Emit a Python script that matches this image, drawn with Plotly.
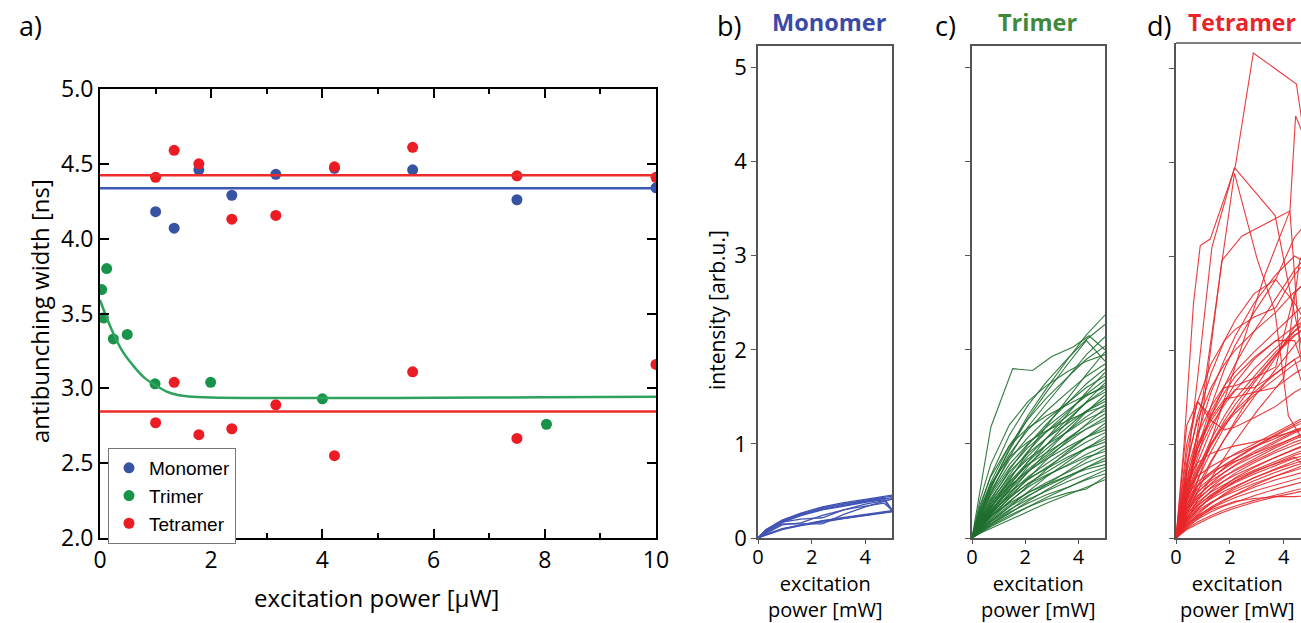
import plotly.graph_objects as go

W, H = 1301, 623

# ---------------- panel a: antibunching width vs excitation power ----------------
mono_x = [1.0, 1.334, 1.778, 2.371, 3.162, 4.217, 5.623, 7.499, 10.0]
mono_y = [4.18, 4.07, 4.46, 4.29, 4.43, 4.47, 4.46, 4.26, 4.34]
tri_x = [0.03, 0.12, 0.06, 0.24, 0.49, 0.99, 1.99, 4.0, 8.03]
tri_y = [3.66, 3.80, 3.47, 3.33, 3.36, 3.03, 3.04, 2.93, 2.76]
tet_x = [1.0, 1.334, 1.778, 2.371, 3.162, 4.217, 5.623, 7.499, 10.0,
         1.0, 1.334, 1.778, 2.371, 3.162, 4.217, 5.623, 7.499, 10.0]
tet_y = [4.41, 4.59, 4.50, 4.13, 4.155, 4.48, 4.61, 4.42, 4.41,
         2.77, 3.04, 2.69, 2.73, 2.89, 2.55, 3.11, 2.665, 3.16]

fit_x = [0, 10]
mono_fit_y = [4.337, 4.337]
tet_fit_hi_y = [4.424, 4.424]
tet_fit_lo_y = [2.845, 2.845]
tri_fit_x = [0, 0.2, 0.4, 0.6, 0.8, 1.0, 1.2, 1.4, 1.6, 2.0, 3.0, 4.0, 6.0, 8.0, 10.0]
tri_fit_y = [3.59, 3.40, 3.25, 3.15, 3.07, 3.02, 2.978, 2.955, 2.945, 2.938, 2.935,
             2.935, 2.937, 2.940, 2.943]

# ---------------- panel b: monomer intensity curves ----------------
mon_grid = [0, 0.3, 0.9, 1.6, 2.4, 3.2, 4.0, 4.7, 5.0]
mon_lines = [
    [0, 0.090, 0.190, 0.265, 0.330, 0.375, 0.410, 0.440, 0.455],
    [0, 0.085, 0.185, 0.258, 0.322, 0.366, 0.402, 0.432, 0.445],
    [0, 0.080, 0.178, 0.250, 0.315, 0.360, 0.395, 0.425, 0.300],
    [0, 0.075, 0.172, 0.243, 0.305, 0.350, 0.388, 0.415, 0.430],
    [0, 0.070, 0.165, 0.237, 0.298, 0.342, 0.380, 0.405, 0.285],
    [0, 0.040, 0.100, 0.143, 0.185, 0.220, 0.250, 0.275, 0.292],
    [0, 0.036, 0.094, 0.137, 0.178, 0.212, 0.243, 0.268, 0.284],
    [0, 0.032, 0.090, 0.132, 0.172, 0.206, 0.237, 0.262, 0.278],
    [0, 0.060, 0.150, 0.148, 0.150, 0.250, 0.330, 0.390, 0.420],
    [0, 0.050, 0.140, 0.160, 0.240, 0.300, 0.340, 0.370, 0.300],
    [0, 0.088, 0.170, 0.200, 0.215, 0.300, 0.360, 0.395, 0.410],
]

# ---------------- panel c: trimer intensity curves ----------------
tri_grid = [0, 0.3, 0.7, 1.4, 2.1, 2.8, 3.6, 4.3, 5.0]
tri_lines = [
    [0, 0.24, 0.52, 0.95, 1.30, 1.59, 1.90, 2.16, 2.37],
    [0, 0.32, 0.66, 1.09, 1.41, 1.66, 1.91, 2.11, 2.27],
    [0, 0.21, 0.47, 0.86, 1.18, 1.43, 1.71, 1.95, 2.14],
    [0, 0.29, 0.59, 0.98, 1.26, 1.49, 1.71, 1.90, 2.04],
    [0, 0.26, 0.55, 0.93, 1.27, 1.55, 1.85, 2.10, 1.88],
    [0, 0.14, 0.32, 0.61, 0.91, 1.19, 1.49, 1.74, 1.98],
    [0, 0.26, 0.54, 0.89, 1.15, 1.35, 1.55, 1.72, 1.85],
    [0, 0.18, 0.40, 0.72, 0.99, 1.21, 1.44, 1.64, 1.80],
    [0, 0.12, 0.28, 0.55, 0.81, 1.06, 1.32, 1.55, 1.76],
    [0, 0.24, 0.50, 0.83, 1.07, 1.26, 1.44, 1.60, 1.72],
    [0, 0.17, 0.37, 0.67, 0.92, 1.13, 1.34, 1.53, 1.68],
    [0, 0.12, 0.26, 0.51, 0.76, 0.99, 1.24, 1.45, 1.65],
    [0, 0.23, 0.47, 0.78, 1.00, 1.18, 1.36, 1.51, 1.62],
    [0, 0.16, 0.35, 0.63, 0.87, 1.06, 1.26, 1.44, 1.58],
    [0, 0.22, 0.45, 0.74, 0.96, 1.13, 1.30, 1.44, 1.55],
    [0, 0.11, 0.24, 0.47, 0.70, 0.91, 1.14, 1.34, 1.52],
    [0, 0.15, 0.33, 0.59, 0.81, 0.99, 1.18, 1.35, 1.48],
    [0, 0.20, 0.42, 0.70, 0.90, 1.06, 1.22, 1.35, 1.45],
    [0, 0.14, 0.31, 0.57, 0.78, 0.95, 1.14, 1.29, 1.42],
    [0, 0.10, 0.22, 0.43, 0.63, 0.83, 1.04, 1.21, 1.38],
    [0, 0.19, 0.39, 0.65, 0.84, 0.99, 1.13, 1.26, 1.35],
    [0, 0.13, 0.29, 0.53, 0.73, 0.88, 1.06, 1.20, 1.32],
    [0, 0.13, 0.28, 0.51, 0.70, 0.86, 1.02, 1.16, 1.28],
    [0, 0.18, 0.36, 0.60, 0.78, 0.91, 1.05, 1.16, 1.25],
    [0, 0.09, 0.20, 0.38, 0.56, 0.73, 0.92, 1.07, 1.22],
    [0, 0.12, 0.26, 0.47, 0.65, 0.79, 0.94, 1.07, 1.18],
    [0, 0.16, 0.33, 0.55, 0.71, 0.84, 0.97, 1.07, 1.15],
    [0, 0.11, 0.25, 0.45, 0.62, 0.75, 0.90, 1.02, 1.12],
    [0, 0.08, 0.17, 0.33, 0.50, 0.65, 0.81, 0.95, 1.08],
    [0, 0.11, 0.23, 0.42, 0.58, 0.70, 0.84, 0.96, 1.05],
    [0, 0.14, 0.30, 0.49, 0.63, 0.74, 0.86, 0.95, 1.02],
    [0, 0.10, 0.22, 0.39, 0.54, 0.66, 0.78, 0.89, 0.98],
    [0, 0.07, 0.15, 0.29, 0.44, 0.57, 0.71, 0.84, 0.95],
    [0, 0.13, 0.27, 0.44, 0.57, 0.67, 0.77, 0.86, 0.92],
    [0, 0.09, 0.19, 0.35, 0.48, 0.59, 0.70, 0.80, 0.88],
    [0, 0.06, 0.14, 0.26, 0.39, 0.51, 0.64, 0.75, 0.85],
    [0, 0.08, 0.18, 0.33, 0.45, 0.55, 0.66, 0.75, 0.82],
    [0, 0.11, 0.23, 0.37, 0.48, 0.57, 0.66, 0.73, 0.78],
    [0, 0.08, 0.17, 0.30, 0.41, 0.50, 0.60, 0.68, 0.75],
    [0, 0.05, 0.12, 0.22, 0.33, 0.43, 0.54, 0.63, 0.72],
    [0, 0.07, 0.15, 0.27, 0.37, 0.46, 0.54, 0.62, 0.68],
    [0, 0.06, 0.13, 0.24, 0.33, 0.41, 0.48, 0.52, 0.65],
    [0, 0.05, 0.10, 0.19, 0.28, 0.37, 0.46, 0.54, 0.62],
    [0, 0.35, 0.65, 0.98, 1.17, 1.30, 1.42, 1.52, 1.60],
    [0, 0.40, 0.78, 1.20, 1.45, 1.62, 1.77, 1.88, 1.95],
    [0, 0.30, 0.57, 0.86, 1.02, 1.14, 1.25, 1.34, 1.40],
]
tri_odd_x = [0, 0.3, 0.71, 1.53, 2.28, 3.0, 3.8, 4.4, 5.0]
tri_odd_y = [0, 0.50, 1.18, 1.80, 1.78, 1.93, 2.03, 2.15, 2.00]

# ---------------- panel d: tetramer intensity curves ----------------
tet_grid = [0, 0.4, 0.8, 1.3, 1.8, 2.2, 2.9, 3.7, 4.4, 5.0]
tet_lines = [
    [0, 0.10, 0.17, 0.24, 0.30, 0.34, 0.40, 0.46, 0.51, 0.55],
    [0, 0.12, 0.20, 0.28, 0.34, 0.38, 0.45, 0.52, 0.58, 0.62],
    [0, 0.15, 0.24, 0.32, 0.38, 0.43, 0.50, 0.57, 0.63, 0.67],
    [0, 0.13, 0.23, 0.33, 0.41, 0.46, 0.54, 0.62, 0.68, 0.72],
    [0, 0.18, 0.29, 0.38, 0.45, 0.50, 0.58, 0.66, 0.72, 0.77],
    [0, 0.16, 0.27, 0.37, 0.46, 0.52, 0.61, 0.70, 0.77, 0.82],
    [0, 0.20, 0.32, 0.42, 0.50, 0.55, 0.64, 0.73, 0.80, 0.85],
    [0, 0.14, 0.25, 0.37, 0.47, 0.54, 0.64, 0.74, 0.82, 0.88],
    [0, 0.22, 0.35, 0.45, 0.53, 0.59, 0.68, 0.77, 0.85, 0.90],
    [0, 0.19, 0.31, 0.43, 0.53, 0.60, 0.70, 0.80, 0.88, 0.93],
    [0, 0.25, 0.38, 0.49, 0.57, 0.63, 0.72, 0.82, 0.90, 0.96],
    [0, 0.17, 0.30, 0.44, 0.56, 0.64, 0.75, 0.86, 0.94, 1.00],
    [0, 0.28, 0.42, 0.53, 0.61, 0.67, 0.76, 0.86, 0.95, 1.02],
    [0, 0.21, 0.36, 0.50, 0.61, 0.69, 0.80, 0.91, 0.99, 1.05],
    [0, 0.30, 0.45, 0.57, 0.66, 0.72, 0.82, 0.93, 1.02, 1.08],
    [0, 0.24, 0.40, 0.54, 0.65, 0.73, 0.84, 0.96, 1.05, 1.12],
    [0, 0.33, 0.49, 0.61, 0.70, 0.77, 0.87, 0.98, 1.08, 1.15],
    [0, 0.27, 0.44, 0.58, 0.70, 0.78, 0.90, 1.02, 1.12, 1.18],
    [0, 0.36, 0.52, 0.64, 0.74, 0.81, 0.92, 1.04, 1.14, 1.22],
    [0, 0.30, 0.48, 0.63, 0.75, 0.84, 0.96, 1.09, 1.19, 1.26],
    [0, 0.40, 0.56, 0.68, 0.78, 0.85, 0.97, 1.10, 1.21, 1.30],
    [0, 0.22, 0.34, 0.46, 0.55, 0.61, 0.71, 0.79, 0.86, 0.70],
    [0, 0.14, 0.22, 0.30, 0.35, 0.39, 0.42, 0.44, 0.44, 0.45],
    [0, 0.45, 0.60, 0.70, 0.77, 0.82, 0.90, 0.99, 1.07, 1.12],
    [0, 0.50, 0.66, 0.76, 0.84, 0.89, 0.97, 1.06, 1.15, 1.20],
    [0, 0.11, 0.21, 0.31, 0.40, 0.46, 0.56, 0.66, 0.74, 0.80],
    [0, 0.35, 0.55, 0.70, 0.82, 0.90, 1.00, 1.12, 1.22, 1.32],
    [0, 0.60, 0.80, 0.90, 0.95, 0.98, 1.02, 1.08, 1.14, 1.18],
    [0, 0.09, 0.15, 0.22, 0.28, 0.32, 0.38, 0.44, 0.48, 0.52],
    [0, 0.45, 0.75, 1.00, 1.20, 1.33, 1.52, 1.70, 1.85, 1.95],
    [0, 0.55, 0.90, 1.20, 1.42, 1.57, 1.80, 2.02, 2.20, 2.32],
    [0, 0.40, 0.70, 1.00, 1.25, 1.42, 1.68, 1.95, 2.15, 2.30],
    [0, 0.70, 1.10, 1.40, 1.62, 1.77, 1.98, 2.20, 2.40, 2.55],
    [0, 0.35, 0.62, 0.92, 1.18, 1.37, 1.65, 1.95, 2.20, 2.38],
    [0, 0.60, 0.95, 1.25, 1.45, 1.58, 1.60, 1.75, 1.90, 2.00],
    [0, 0.80, 1.25, 1.60, 1.85, 2.00, 2.20, 2.40, 2.62, 2.75],
    [0, 0.30, 0.55, 0.82, 1.05, 1.22, 1.50, 1.80, 2.05, 2.25],
    [0, 0.50, 0.85, 1.35, 1.60, 1.62, 1.70, 1.82, 2.60, 2.80],
    [0, 0.65, 1.00, 1.28, 1.48, 1.50, 1.55, 1.60, 1.75, 1.85],
    [0, 1.00, 1.45, 1.30, 1.55, 1.72, 1.92, 2.10, 2.25, 2.35],
    [0, 0.38, 0.68, 0.98, 1.22, 1.36, 1.55, 1.75, 1.90, 1.35],
    [0, 0.90, 1.45, 1.85, 2.10, 2.22, 2.35, 2.45, 2.80, 3.00],
    [0, 0.25, 0.50, 0.80, 1.05, 1.25, 1.58, 1.92, 2.25, 2.50],
    [0, 0.45, 0.80, 1.15, 1.45, 1.65, 1.90, 2.10, 2.10, 1.60],
    [0, 1.20, 1.45, 1.25, 1.15, 1.18, 1.28, 1.40, 1.55, 1.65],
    [0, 0.55, 0.95, 1.30, 1.62, 1.85, 2.20, 2.55, 2.85, 3.05],
    [0, 0.42, 0.72, 1.05, 1.30, 1.48, 1.72, 1.98, 2.16, 2.25],
    [0, 0.60, 1.10, 1.55, 1.90, 2.15, 2.50, 2.80, 3.00, 2.90],
    [0, 0.75, 1.30, 1.75, 2.10, 2.32, 2.60, 2.75, 2.50, 2.20],
    [0, 0.50, 0.95, 1.40, 1.80, 2.05, 2.40, 2.75, 3.20, 3.40],
]
tet_odd_x = [
    [0, 0.3, 0.65, 0.9, 1.27, 2.2, 2.87, 4.47, 5.0],
    [0, 0.4, 0.8, 1.33, 2.17, 3.68, 4.30, 5.0],
    [0, 0.5, 1.0, 1.55, 2.17, 3.0, 3.68, 4.17, 5.0],
    [0, 0.5, 1.0, 1.70, 2.44, 4.23, 4.44, 5.0],
    [0, 0.8, 1.6, 2.5, 3.3, 4.23, 4.6, 5.0],
    [0, 1.0, 2.0, 3.0, 4.0, 4.59, 5.0],
]
tet_odd_y = [
    [0, 1.00, 2.50, 3.11, 3.18, 3.95, 5.16, 4.83, 3.80],
    [0, 0.70, 1.70, 3.09, 3.94, 3.43, 2.52, 1.60],
    [0, 0.60, 1.50, 2.63, 3.88, 2.98, 2.40, 1.30, 0.90],
    [0, 0.55, 1.35, 2.95, 3.21, 3.48, 4.49, 4.10],
    [0, 0.60, 1.30, 2.10, 2.80, 3.48, 2.00, 1.50],
    [0, 0.50, 0.95, 1.35, 1.70, 2.95, 3.20],
]

BLUE = "#3953a4"
GREEN = "#17934a"
RED = "#ec1c24"
FONT = "Open Sans, DejaVu Sans, sans-serif"

fig = go.Figure()

# panel a points
fig.add_trace(go.Scatter(x=mono_x, y=mono_y, mode="markers", name="Monomer",
                         marker=dict(color=BLUE, size=11), xaxis="x", yaxis="y"))
fig.add_trace(go.Scatter(x=tri_x, y=tri_y, mode="markers", name="Trimer",
                         marker=dict(color=GREEN, size=11), xaxis="x", yaxis="y"))
fig.add_trace(go.Scatter(x=tet_x, y=tet_y, mode="markers", name="Tetramer",
                         marker=dict(color=RED, size=11), xaxis="x", yaxis="y"))
# panel a fits
fig.add_trace(go.Scatter(x=fit_x, y=mono_fit_y, mode="lines", showlegend=False,
                         line=dict(color="#3b57b8", width=2.5), xaxis="x", yaxis="y"))
fig.add_trace(go.Scatter(x=fit_x, y=tet_fit_hi_y, mode="lines", showlegend=False,
                         line=dict(color="#ee2b2b", width=2.5), xaxis="x", yaxis="y"))
fig.add_trace(go.Scatter(x=fit_x, y=tet_fit_lo_y, mode="lines", showlegend=False,
                         line=dict(color="#ee2b2b", width=2.5), xaxis="x", yaxis="y"))
fig.add_trace(go.Scatter(x=tri_fit_x, y=tri_fit_y, mode="lines", showlegend=False,
                         line=dict(color="#2ea25e", width=2.5, shape="spline"),
                         xaxis="x", yaxis="y"))

# panel b
for ys in mon_lines:
    fig.add_trace(go.Scatter(x=mon_grid, y=ys, mode="lines", showlegend=False,
                             line=dict(color="#4254b4", width=1.3),
                             xaxis="x2", yaxis="y2", hoverinfo="skip"))
# panel c
for ys in tri_lines:
    fig.add_trace(go.Scatter(x=tri_grid, y=ys, mode="lines", showlegend=False,
                             line=dict(color="#1e6f2e", width=1.1), opacity=0.9,
                             xaxis="x3", yaxis="y3", hoverinfo="skip"))
fig.add_trace(go.Scatter(x=tri_odd_x, y=tri_odd_y, mode="lines", showlegend=False,
                         line=dict(color="#1e6f2e", width=1.1), opacity=0.9,
                         xaxis="x3", yaxis="y3", hoverinfo="skip"))
# panel d
for ys in tet_lines:
    fig.add_trace(go.Scatter(x=tet_grid, y=ys, mode="lines", showlegend=False,
                             line=dict(color="#e8262a", width=1.1), opacity=0.9,
                             xaxis="x4", yaxis="y4", hoverinfo="skip"))
for xs, ys in zip(tet_odd_x, tet_odd_y):
    fig.add_trace(go.Scatter(x=xs, y=ys, mode="lines", showlegend=False,
                             line=dict(color="#e8262a", width=1.1), opacity=0.9,
                             xaxis="x4", yaxis="y4", hoverinfo="skip"))


def px(v):
    return v / W


def py(v):
    return 1 - v / H


axA = dict(showline=True, linecolor="black", linewidth=2, mirror="ticks",
           ticks="inside", ticklen=9, tickwidth=2, tickcolor="black",
           showgrid=False, zeroline=False,
           tickfont=dict(family=FONT, size=23, color="black"))
axS = dict(showline=True, linecolor="#555", linewidth=1.5, mirror=True,
           ticks="outside", ticklen=5, tickwidth=1.3, tickcolor="#555",
           showgrid=False, zeroline=False,
           tickfont=dict(family=FONT, size=22, color="black"))
xS = dict(axS, ticklen=4, ticklabelstandoff=-4,
          tickfont=dict(family=FONT, size=20, color="black"))

bottom = py(538)
fig.update_layout(
    width=W, height=H, margin=dict(l=0, r=0, t=0, b=0, autoexpand=False),
    paper_bgcolor="white", plot_bgcolor="white",
    xaxis=dict(axA, domain=[px(100), px(656)], range=[0, 10], dtick=2,
               minor=dict(dtick=1, ticks="inside", ticklen=5, tickwidth=2,
                          tickcolor="black", showgrid=False)),
    yaxis=dict(axA, domain=[bottom, py(89)], range=[2, 5], dtick=0.5,
               tickformat=".1f"),
    xaxis2=dict(xS, domain=[px(758), px(892)], range=[0, 5], tickvals=[0, 2, 4],
                anchor="y2"),
    yaxis2=dict(axS, domain=[bottom, py(46)], range=[0, 5.23], dtick=1,
                anchor="x2"),
    xaxis3=dict(xS, domain=[px(972), px(1105)], range=[0, 5], tickvals=[0, 2, 4],
                anchor="y3"),
    yaxis3=dict(axS, domain=[bottom, py(46)], range=[0, 5.23], dtick=1,
                showticklabels=False, anchor="x3"),
    xaxis4=dict(xS, domain=[px(1176), 1.0], range=[0, 4.64], tickvals=[0, 2, 4],
                mirror=False, anchor="y4"),
    yaxis4=dict(axS, domain=[bottom, py(43)], range=[0, 5.266], dtick=1,
                showticklabels=False, mirror=False, anchor="x4"),
    legend=dict(x=px(108), y=py(448), xanchor="left", yanchor="top",
                bgcolor="white", bordercolor="#777", borderwidth=1,
                font=dict(family="Liberation Sans, Arial, sans-serif", size=19,
                          color="black"),
                tracegroupgap=0),
    shapes=[dict(type="line", xref="x4 domain", yref="y4 domain", x0=0, x1=1,
                 y0=1, y1=1, line=dict(color="#555", width=1.5))],
)

ann = []


def add_text(text, x, y, size, color="black", bold=False, angle=0, xanchor="center"):
    ann.append(dict(text=("<b>%s</b>" % text) if bold else text,
                    x=px(x), y=py(y), xref="paper", yref="paper",
                    showarrow=False, textangle=angle, xanchor=xanchor,
                    yanchor="middle",
                    font=dict(family=FONT, size=size, color=color)))


add_text("a)", 30, 25, 27)
add_text("b)", 729, 25, 27)
add_text("c)", 945, 25, 27)
add_text("d)", 1159, 25, 27)
add_text("Monomer", 829, 22, 23.5, color="#3b4aa6", bold=True)
add_text("Trimer", 1037, 22, 23.5, color="#3e8a3a", bold=True)
add_text("Tetramer", 1242, 22, 23, color="#e8262a", bold=True)
add_text("antibunching width [ns]", 40, 311, 24, angle=-90)
add_text("excitation power [µW]", 376, 597, 24)
add_text("intensity [arb.u.]", 717, 310, 21, angle=-90)
for cx in (825, 1038, 1237):
    add_text("excitation<br>power [mW]", cx, 596, 20)

fig.update_layout(annotations=ann)
fig.write_html("out.html", config={"displayModeBar": False},
               post_script="document.body.style.margin='0px';"
                           "document.body.style.overflow='hidden';")
